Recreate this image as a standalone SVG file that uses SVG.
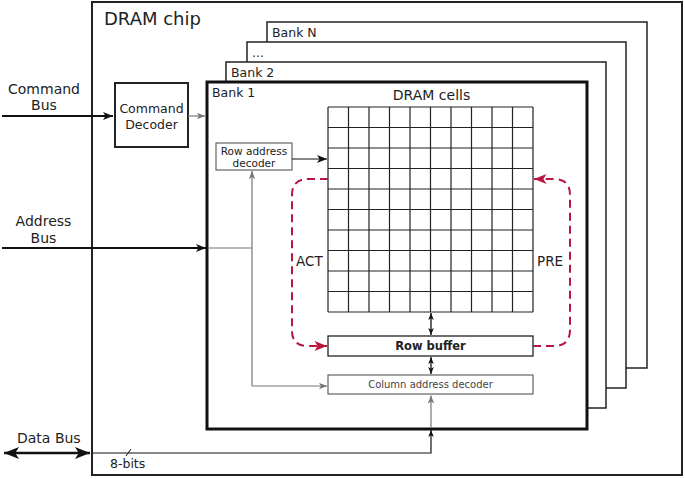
<svg xmlns="http://www.w3.org/2000/svg" width="685" height="479" viewBox="0 0 685 479">
<style>
text{font-family:"DejaVu Sans","Liberation Sans",sans-serif;fill:#222}
.box{fill:#fff;stroke:#222;stroke-width:1.5}
.thin{fill:#fff;stroke:#555;stroke-width:1.1}
.grid{fill:none;stroke:#222;stroke-width:1.2}
.blk{fill:none;stroke:#111}
.gry{fill:none;stroke:#777;stroke-width:1.2}
.red{fill:none;stroke:#b8163e;stroke-width:2;stroke-dasharray:8,5}
</style>
<defs>
<marker id="ab" viewBox="0 0 10 8" refX="10" refY="4" markerWidth="10" markerHeight="8" markerUnits="userSpaceOnUse" orient="auto-start-reverse"><path d="M0,0 L10,4 L0,8 L2.5,4 z" fill="#111"/></marker>
<marker id="abig" viewBox="0 0 10 8" refX="10" refY="4" markerWidth="15" markerHeight="12" markerUnits="userSpaceOnUse" orient="auto-start-reverse"><path d="M0,0 L10,4 L0,8 L2.5,4 z" fill="#111"/></marker>
<marker id="as" viewBox="0 0 10 8" refX="10" refY="4" markerWidth="7" markerHeight="6" markerUnits="userSpaceOnUse" orient="auto-start-reverse"><path d="M0,0 L10,4 L0,8 L2.5,4 z" fill="#111"/></marker>
<marker id="ag" viewBox="0 0 10 8" refX="10" refY="4" markerWidth="8" markerHeight="7" markerUnits="userSpaceOnUse" orient="auto-start-reverse"><path d="M0,0 L10,4 L0,8 L2.5,4 z" fill="#777"/></marker>
<marker id="ar" viewBox="0 0 10 8" refX="10" refY="4" markerWidth="13" markerHeight="10" markerUnits="userSpaceOnUse" orient="auto"><path d="M0,0 L10,4 L0,8 L2.5,4 z" fill="#b8163e"/></marker>
</defs>

<g id="dram-chip">
<rect x="92" y="2" width="590" height="473" fill="#fff" stroke="#222" stroke-width="2"/>
<text x="104" y="25" font-size="18">DRAM chip</text>
</g>

<g id="bank-n">
<rect class="box" x="267" y="22" width="380" height="346"/>
<text x="272" y="37" font-size="12.5">Bank N</text>
</g>
<g id="bank-dots">
<rect class="box" x="247" y="42" width="379" height="346"/>
<text x="252" y="57" font-size="12.5">...</text>
</g>
<g id="bank-2">
<rect class="box" x="226" y="62" width="380" height="346"/>
<text x="231" y="77" font-size="12.5">Bank 2</text>
</g>
<g id="bank-1">
<rect x="207" y="82" width="380" height="347" fill="#fff" stroke="#111" stroke-width="3"/>
<text x="212" y="97" font-size="12.5">Bank 1</text>
</g>

<g id="command-decoder">
<rect x="115" y="83" width="73" height="64" fill="#fff" stroke="#222" stroke-width="2"/>
<text x="151.5" y="113" font-size="12.5" text-anchor="middle">Command</text>
<text x="151.5" y="129" font-size="12.5" text-anchor="middle">Decoder</text>
</g>

<g id="dram-cells">
<text x="431.5" y="100" font-size="14" text-anchor="middle">DRAM cells</text>
<rect x="328" y="107" width="205" height="205" fill="#fff" stroke="none"/>
<path class="grid" d="M328,107V312M348.5,107V312M369,107V312M389.5,107V312M410,107V312M430.5,107V312M451,107V312M471.5,107V312M492,107V312M512.5,107V312M533,107V312M328,107H533M328,127.5H533M328,148H533M328,168.5H533M328,189H533M328,209.5H533M328,230H533M328,250.5H533M328,271H533M328,291.5H533M328,312H533"/>
</g>

<g id="row-address-decoder">
<rect class="thin" x="216" y="143" width="76" height="27"/>
<text x="254" y="154.5" font-size="10.5" text-anchor="middle">Row address</text>
<text x="254" y="167" font-size="10.5" text-anchor="middle">decoder</text>
</g>

<g id="row-buffer">
<rect x="328" y="336" width="205" height="20" fill="#fff" stroke="#222" stroke-width="1.3"/>
<text x="430.5" y="350" font-size="11.5" font-weight="bold" text-anchor="middle">Row buffer</text>
</g>

<g id="column-address-decoder">
<rect class="thin" x="328" y="375" width="205" height="19"/>
<text x="430.5" y="388" font-size="10" text-anchor="middle" style="fill:#444">Column address decoder</text>
</g>

<g id="labels">
<text x="44" y="94" font-size="14" text-anchor="middle">Command</text>
<text x="44" y="110" font-size="14" text-anchor="middle">Bus</text>
<text x="43.5" y="226" font-size="14" text-anchor="middle">Address</text>
<text x="43.5" y="243" font-size="14" text-anchor="middle">Bus</text>
<text x="17" y="443" font-size="14">Data Bus</text>
<text x="110" y="468" font-size="12.5">8-bits</text>
<text x="296" y="266" font-size="13.5">ACT</text>
<text x="537" y="266" font-size="13.5">PRE</text>
</g>

<g id="connectors">
<line class="blk" x1="2" y1="116" x2="113" y2="116" stroke-width="2" marker-end="url(#ab)"/>
<line class="gry" x1="188" y1="116" x2="205" y2="116" stroke="#666" marker-end="url(#ag)"/>
<line class="blk" x1="2" y1="248" x2="206" y2="248" stroke-width="1.8" marker-end="url(#ab)"/>
<path class="gry" d="M208,248H252"/>
<path class="gry" d="M252,386V171" marker-end="url(#ag)"/>
<path class="gry" d="M252,386H327" marker-end="url(#ag)"/>
<line class="blk" x1="292" y1="159" x2="327" y2="159" stroke-width="1.2" marker-end="url(#ab)"/>
<line class="blk" x1="431" y1="313" x2="431" y2="335" stroke-width="1.3" marker-start="url(#as)" marker-end="url(#as)"/>
<line class="blk" x1="431" y1="357" x2="431" y2="374" stroke-width="1.3" marker-start="url(#as)" marker-end="url(#as)"/>
<line class="blk" x1="4" y1="453" x2="90" y2="453" stroke-width="2.5" marker-start="url(#abig)" marker-end="url(#abig)"/>
<path class="blk" d="M92,453H431V430" stroke-width="1.2" marker-end="url(#as)"/>
<line x1="126" y1="456" x2="131" y2="449" stroke="#111" stroke-width="1"/>
<path class="gry" d="M431,428V395.5" stroke="#888" stroke-width="1" marker-end="url(#ag)"/>
<path class="red" d="M328,179H308Q292,179 292,195V331Q292,346 308,346H327" marker-end="url(#ar)"/>
<path class="red" d="M533,346H554Q570,346 570,330V195Q570,179 554,179H534" marker-end="url(#ar)"/>
</g>
</svg>
